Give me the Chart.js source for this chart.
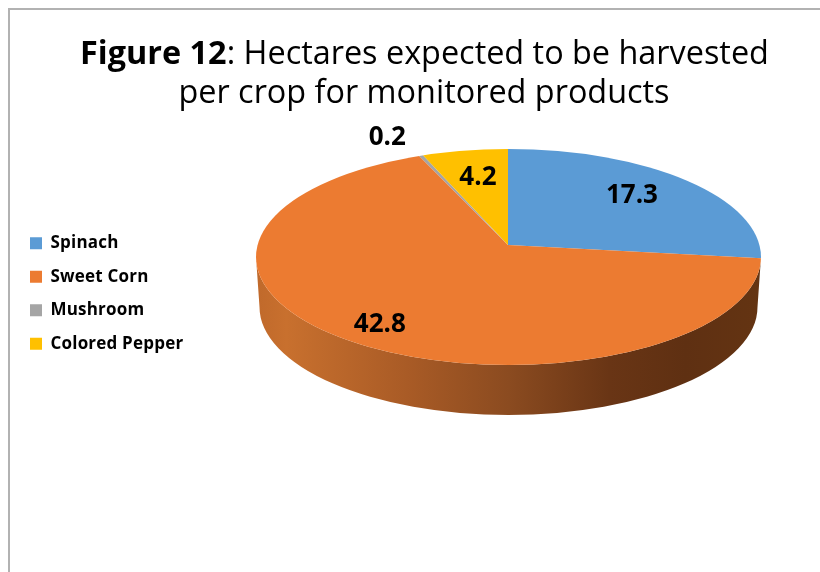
<!DOCTYPE html>
<html>
<head>
<meta charset="utf-8">
<style>
  html,body{ margin:0; padding:0; background:#fff; }
  canvas{ display:block; }
</style>
<script src="https://cdn.jsdelivr.net/npm/chart.js@4"></script>
</head>
<body>
<canvas id="pieChart" width="820" height="572"></canvas>
<script>
const categories = ['Spinach', 'Sweet Corn', 'Mushroom', 'Colored Pepper'];
const hectares = [17.3, 42.8, 0.2, 4.2];
const sliceColors = ['#5B9BD5', '#EC7B31', '#A5A5A5', '#FFC000'];

// the pie is a flat doughnut squashed on the canvas, clipped to the rim ellipse
const APEX = { x:508, y:245, squash:0.458 };
const RIM = { x:508.5, y:257, rx:252.5, ry:108 };
const FLOOR = { x:508.5, y:307, rx:249, ry:108 };
const labelReachX = [166, 218, 297, 148];
const labelReachY = [162, 216, 256, 150];

const tiltPlugin = {
  id:'tilt',
  beforeDraw(chart){
    chart.ctx.letterSpacing = '0.2px'; // legend text only
  },
  beforeDatasetsDraw(chart){
    const ctx = chart.ctx;
    const arc = chart.getDatasetMeta(0).data[0];
    ctx.letterSpacing = '0px';
    ctx.save();

    // side wall
    const wall = ctx.createLinearGradient(RIM.x - RIM.rx, 0, RIM.x + RIM.rx, 0);
    wall.addColorStop(0, '#c0692b');
    wall.addColorStop(0.06, '#c8702e');
    wall.addColorStop(0.3, '#a95b26');
    wall.addColorStop(0.5, '#8b4b20');
    wall.addColorStop(0.7, '#693515');
    wall.addColorStop(0.85, '#5f3012');
    wall.addColorStop(1, '#643412');
    ctx.fillStyle = wall;
    ctx.beginPath();
    ctx.ellipse(RIM.x, RIM.y, RIM.rx, RIM.ry, 0, 0, Math.PI);
    ctx.ellipse(FLOOR.x, FLOOR.y, FLOOR.rx, FLOOR.ry, 0, Math.PI, 0, true);
    ctx.closePath();
    ctx.fill();

    ctx.beginPath();
    ctx.ellipse(RIM.x, RIM.y, RIM.rx, RIM.ry, 0, 0, Math.PI * 2);
    ctx.clip();
    ctx.translate(APEX.x, APEX.y);
    ctx.scale(1, APEX.squash);
    ctx.translate(-arc.x, -arc.y);
  },
  afterDatasetsDraw(chart){
    const ctx = chart.ctx;
    ctx.restore();

    ctx.save();
    ctx.fillStyle = '#000';
    ctx.font = 'bold 26px "Open Sans"';
    ctx.textAlign = 'center';
    ctx.textBaseline = 'middle';
    chart.getDatasetMeta(0).data.forEach((arc, i) => {
      const mid = (arc.startAngle + arc.endAngle) / 2;
      const x = APEX.x + Math.cos(mid) * labelReachX[i];
      const y = APEX.y + Math.sin(mid) * labelReachY[i] * APEX.squash;
      ctx.fillText(hectares[i].toFixed(1), x, y);
    });
    ctx.restore();
  },
  afterDraw(chart){
    const ctx = chart.ctx;
    ctx.save();

    // frame, top and left only
    ctx.strokeStyle = '#b2b2b2';
    ctx.lineWidth = 2;
    ctx.beginPath();
    ctx.moveTo(820, 9);
    ctx.lineTo(9, 9);
    ctx.lineTo(9, 572);
    ctx.stroke();

    // title, first words bold
    ctx.fillStyle = '#000';
    ctx.textBaseline = 'alphabetic';
    ctx.textAlign = 'left';
    const bold = 'bold 32.4px "Open Sans"', normal = '32.4px "Open Sans"';
    ctx.font = bold;
    const head = 'Figure 12';
    const headW = ctx.measureText(head).width;
    ctx.font = normal;
    const rest = ': Hectares expected to be harvested';
    const restW = ctx.measureText(rest).width;
    const x0 = 424.5 - (headW + restW) / 2;
    ctx.font = bold;
    ctx.fillText(head, x0, 64);
    ctx.font = normal;
    ctx.fillText(rest, x0 + headW, 64);
    ctx.textAlign = 'center';
    ctx.fillText('per crop for monitored products', 424, 103);
    ctx.restore();
  }
};

new Chart(document.getElementById('pieChart').getContext('2d'), {
  type:'pie',
  data:{
    labels:categories,
    datasets:[{ data:hectares, backgroundColor:sliceColors, borderWidth:0, radius:270 }]
  },
  options:{
    responsive:false,
    animation:false,
    layout:{ padding:{ left:13.5, top:15 } },
    plugins:{
      tooltip:{ enabled:false },
      legend:{
        position:'left',
        labels:{
          boxWidth:12, boxHeight:12, padding:16.5, color:'#000',
          font:{ family:'"Open Sans"', size:17, weight:'bold' }
        }
      }
    }
  },
  plugins:[tiltPlugin]
});
</script>
</body>
</html>
